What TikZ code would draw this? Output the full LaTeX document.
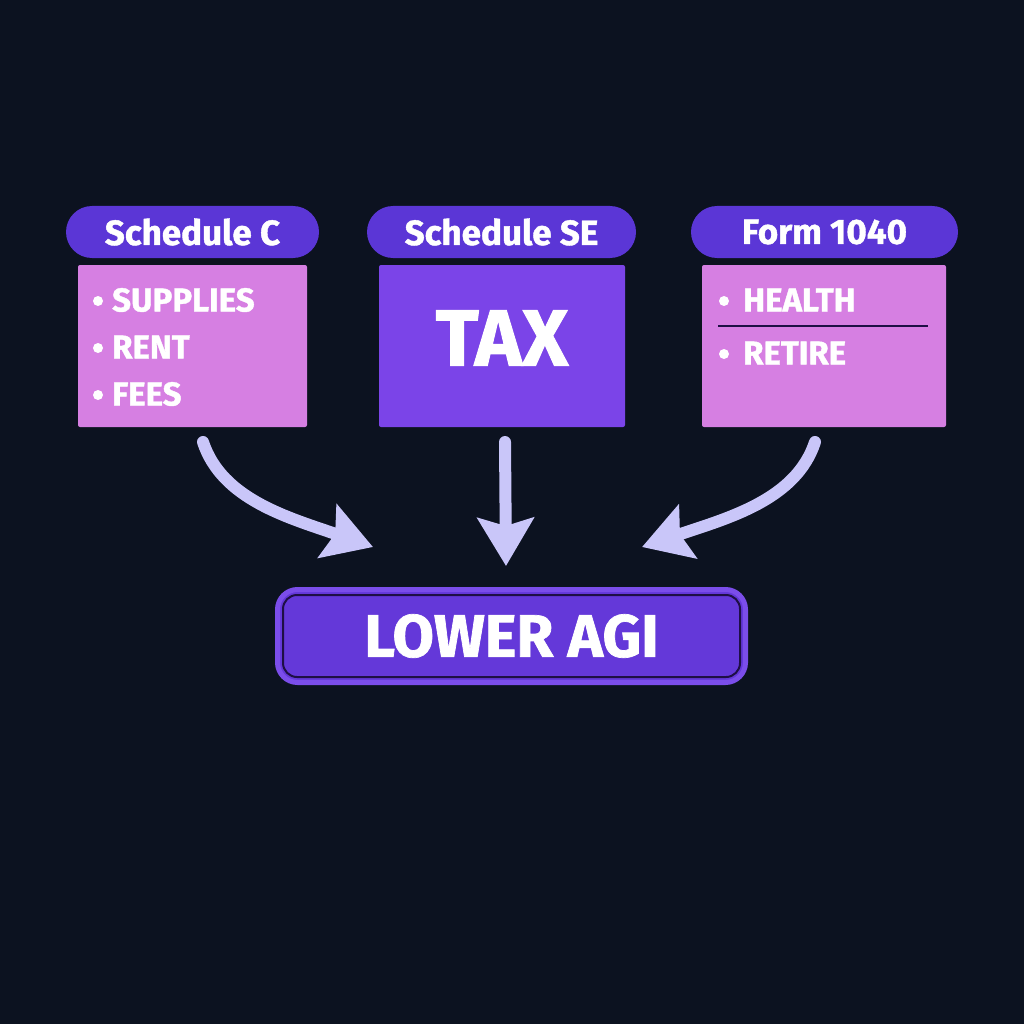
\documentclass[tikz,border=0pt]{standalone}
\usepackage{fontspec}
\setmainfont{Fira Sans}[BoldFeatures={FakeBold=1.2}]
\usetikzlibrary{arrows.meta}
\definecolor{bg}{HTML}{0C1220}
\definecolor{pillc}{HTML}{5B36D6}
\definecolor{orchid}{HTML}{D67FE2}
\definecolor{taxc}{HTML}{7B44E8}
\definecolor{agic}{HTML}{6438D9}
\definecolor{agiborder}{HTML}{7B4DEA}
\definecolor{darkline}{HTML}{1E0F45}
\definecolor{arrowc}{HTML}{C9C6F9}
\tikzset{
  pill/.style={rounded corners=26pt, fill=pillc, text=white, inner sep=0pt,
    minimum height=52pt, font=\bfseries\fontsize{35}{40}\selectfont},
  lbox/.style={fill=orchid, rounded corners=2pt, inner sep=0pt, minimum height=162pt},
  tbox/.style={fill=taxc, rounded corners=2pt, inner sep=0pt, minimum height=162pt},
  item/.style={anchor=west, text=white, inner sep=0pt, font=\bfseries\fontsize{33}{38}\selectfont},
  dot/.style={circle, fill=white, inner sep=0pt, minimum size=10pt},
  arr/.style={draw=arrowc, line width=12pt, line cap=round,
    -{Stealth[length=48pt, width=56pt, inset=8pt]}},
}
\begin{document}
\begin{tikzpicture}[x=1pt, y=-1pt]
\fill[bg] (0,0) rectangle (1024,1024);
\useasboundingbox (0,0) rectangle (1024,1024);

% headers
\node[pill, minimum width=253pt] (hC) at (192.5,232) {Schedule C};
\node[pill, minimum width=269pt] (hSE) at (501.5,232) {Schedule SE};
\node[pill, minimum width=267pt] (hF) at (824.5,232) {Form 1040};

% boxes
\node[lbox, minimum width=229pt] (bC) at (192.5,346) {};
\node[tbox, minimum width=246pt] (bSE) at (502,346) {};
\node[lbox, minimum width=244pt] (bF) at (824,346) {};
\node[text=white, inner sep=0pt, font=\bfseries\fontsize{80}{90}\selectfont] (tax) at (502,338) {TAX};

% Schedule C items
\node[dot] (d1) at (98,301) {};
\node[item] (i1) at (112,300) {SUPPLIES};
\node[dot] (d2) at (98,348) {};
\node[item] (i2) at (112,347) {RENT};
\node[dot] (d3) at (98,395) {};
\node[item] (i3) at (112,394) {FEES};

% Form 1040 items
\node[dot] (d4) at (724,301) {};
\node[item] (i4) at (743,300) {HEALTH};
\coordinate (lineA) at (718,326);
\coordinate (lineB) at (928,326);
\draw[darkline, line width=2.5pt] (lineA) -- (lineB);
\node[dot] (d5) at (724,354) {};
\node[item] (i5) at (743,353) {RETIRE};

% result
\node[fill=agic, draw=agiborder, line width=5pt, rounded corners=20pt,
  minimum width=468pt, minimum height=93pt, inner sep=0pt, text=white,
  font=\bfseries\fontsize{60}{68}\selectfont] (agi) at (511.5,636) {LOWER AGI};
\draw[darkline, line width=2pt, rounded corners=14pt]
  ([shift={(8,8)}]agi.north west) rectangle ([shift={(-8,-8)}]agi.south east);

% arrows
\coordinate (aL1) at (203,442);
\coordinate (aL2) at (373,547);
\coordinate (aM1) at (505,442);
\coordinate (aM2) at (506,566);
\coordinate (aR1) at (815,442);
\coordinate (aR2) at (642,547);
\draw[arr] (aL1) .. controls (222,500) and (290,518) .. (aL2);
\draw[arr] (aM1) -- (aM2);
\draw[arr] (aR1) .. controls (796,500) and (728,518) .. (aR2);
\end{tikzpicture}
\end{document}
